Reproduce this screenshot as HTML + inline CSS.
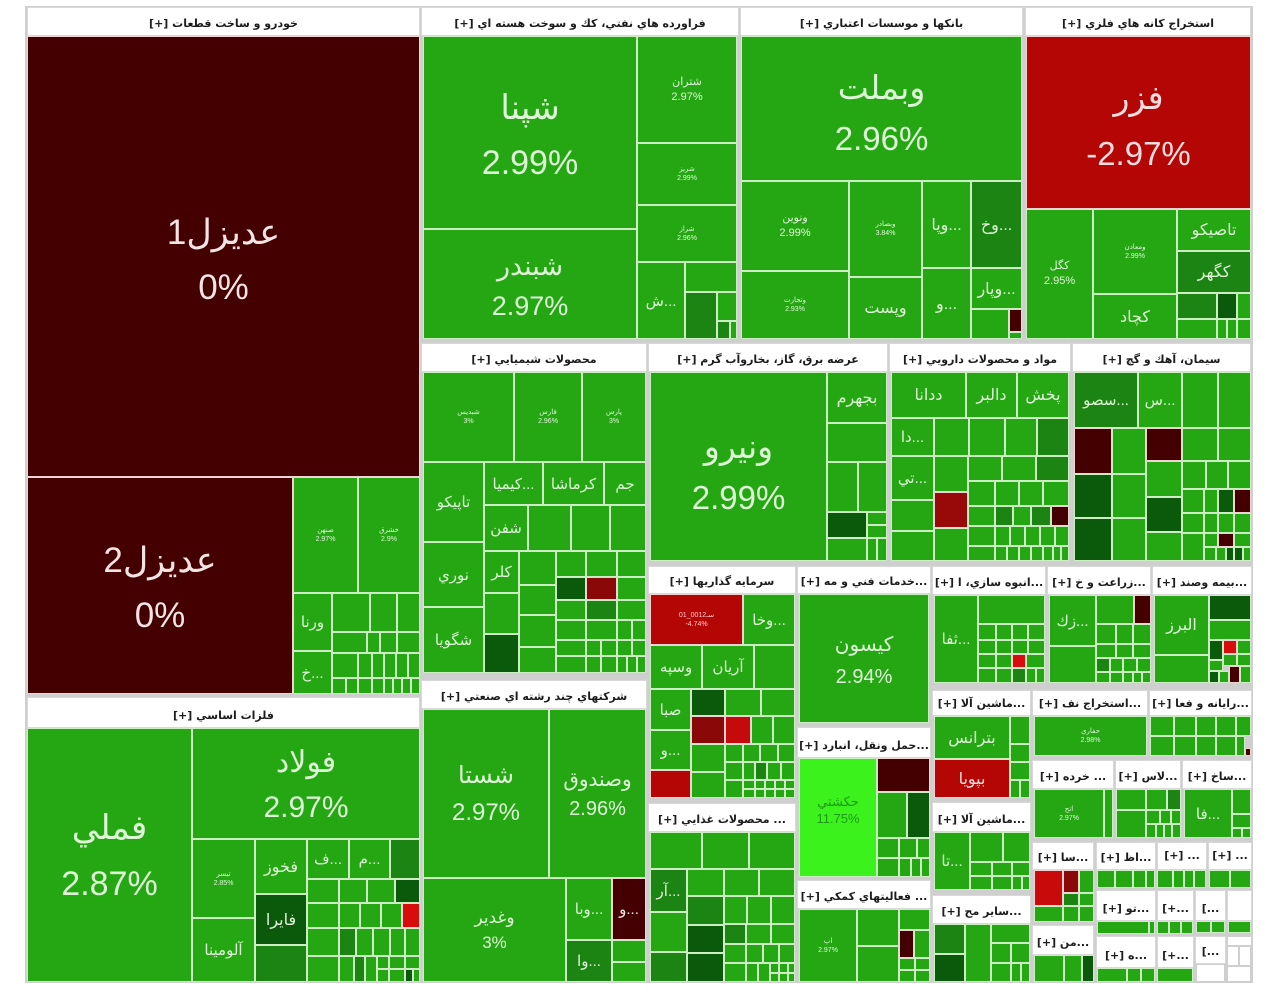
<!DOCTYPE html>
<html><head><meta charset="utf-8">
<style>
html,body{margin:0;padding:0;background:#fff;width:1280px;height:1008px;overflow:hidden;position:relative}
#fr{position:absolute;left:25px;top:6px;width:1228px;height:977px;background:#cfcfcf}
i{position:absolute;box-sizing:border-box;border:1px solid #cdeec5;font-style:normal;display:flex;flex-direction:column;align-items:center;justify-content:center;color:#dff5d8;font-family:"Liberation Sans","DejaVu Sans",sans-serif;text-align:center;overflow:hidden;white-space:nowrap;direction:rtl;background:#25a713}
i b{font-weight:normal;display:block}
.g{background:#25a713}
.d{background:#1c8412}
.dd{background:#0b590b}
.m{background:#440000;border-color:#f0d2d2;color:#f3e4e4}
.m2{background:#8a0808;border-color:#f0d2d2}
.r{background:#b50606;border-color:#f0d2d2;color:#f6dede}
.br{background:#d90c0c;border-color:#f0d2d2}
.lg{background:#3cf21c;color:#1c9a12}
.w{background:#fff;border-color:#cfcfcf}
u{position:absolute;box-sizing:border-box;background:#fff;border:1px solid #d8d8d8;text-decoration:none;display:flex;align-items:flex-end;justify-content:center;padding-bottom:4px;font:bold 11px/14px "DejaVu Sans",sans-serif;color:#1c1c1c;direction:rtl;white-space:nowrap;overflow:hidden}
.t7{font-size:7px;line-height:9px}
.t10{font-size:10px;line-height:13px}
.t11{font-size:11px;line-height:15px}
.t15{font-size:15px}
.t16{font-size:16px}
</style></head><body>
<div id="fr"></div>

<!-- Sector 1 -->
<u style="left:27px;top:7px;width:393px;height:29px">خودرو و ساخت قطعات [+]</u>
<i class="m" style="left:27px;top:36px;width:393px;height:441px;font-size:35px;line-height:55px;padding-top:6px"><b>عديزل1</b><b dir="ltr">0%</b></i>
<i class="m" style="left:27px;top:477px;width:266px;height:217px;font-size:35px;line-height:55px;padding-top:4px"><b>عديزل2</b><b dir="ltr">0%</b></i>
<i class="g t7" style="left:293px;top:477px;width:65px;height:116px"><b>صنهن</b><b dir="ltr">2.97%</b></i>
<i class="g t7" style="left:358px;top:477px;width:62px;height:116px"><b>خشرق</b><b dir="ltr">2.9%</b></i>
<i class="g t15" style="left:293px;top:593px;width:39px;height:58px">ورنا</i>
<i class="g t15" style="left:293px;top:651px;width:39px;height:43px">...خ</i>
<i class="g" style="left:332px;top:593px;width:38px;height:39px"></i>
<i class="g" style="left:370px;top:593px;width:27px;height:39px"></i>
<i class="g" style="left:397px;top:593px;width:23px;height:39px"></i>
<i class="g" style="left:332px;top:632px;width:35px;height:21px"></i>
<i class="g" style="left:367px;top:632px;width:13px;height:21px"></i>
<i class="g" style="left:380px;top:632px;width:17px;height:21px"></i>
<i class="g" style="left:397px;top:632px;width:23px;height:21px"></i>
<i class="g" style="left:332px;top:653px;width:26px;height:25px"></i>
<i class="g" style="left:358px;top:653px;width:14px;height:25px"></i>
<i class="g" style="left:372px;top:653px;width:12px;height:25px"></i>
<i class="g" style="left:384px;top:653px;width:12px;height:25px"></i>
<i class="g" style="left:396px;top:653px;width:12px;height:25px"></i>
<i class="g" style="left:408px;top:653px;width:12px;height:25px"></i>
<i class="g" style="left:332px;top:678px;width:14px;height:16px"></i>
<i class="g" style="left:346px;top:678px;width:12px;height:16px"></i>
<i class="g" style="left:358px;top:678px;width:14px;height:16px"></i>
<i class="g" style="left:372px;top:678px;width:12px;height:16px"></i>
<i class="g" style="left:384px;top:678px;width:9px;height:16px"></i>
<i class="g" style="left:393px;top:678px;width:9px;height:16px"></i>
<i class="g" style="left:402px;top:678px;width:9px;height:16px"></i>
<i class="g" style="left:411px;top:678px;width:9px;height:16px"></i>

<!-- Felezat -->
<u style="left:27px;top:697px;width:393px;height:31px">فلزات اساسي [+]</u>
<i class="g" style="left:27px;top:728px;width:165px;height:254px;font-size:34px;line-height:56px;padding-top:2px"><b>فملي</b><b dir="ltr">2.87%</b></i>
<i class="g" style="left:192px;top:728px;width:228px;height:111px;font-size:30px;line-height:45px;padding-top:3px"><b>فولاد</b><b dir="ltr">2.97%</b></i>
<i class="g t7" style="left:192px;top:839px;width:63px;height:79px"><b>تيسر</b><b dir="ltr">2.85%</b></i>
<i class="g t15" style="left:192px;top:918px;width:63px;height:64px">آلومينا</i>
<i class="g t16" style="left:255px;top:839px;width:52px;height:55px">فخوز</i>
<i class="dd t16" style="left:255px;top:894px;width:52px;height:51px">فايرا</i>
<i class="d" style="left:255px;top:945px;width:52px;height:37px"></i>
<i class="g t15" style="left:307px;top:839px;width:42px;height:40px">...ف</i>
<i class="g t15" style="left:349px;top:839px;width:41px;height:40px">...م</i>
<i class="d" style="left:390px;top:839px;width:30px;height:40px"></i>
<i class="g" style="left:307px;top:879px;width:32px;height:24px"></i>
<i class="g" style="left:339px;top:879px;width:28px;height:24px"></i>
<i class="g" style="left:367px;top:879px;width:28px;height:24px"></i>
<i class="dd" style="left:395px;top:879px;width:25px;height:24px"></i>
<i class="g" style="left:307px;top:903px;width:32px;height:25px"></i>
<i class="g" style="left:339px;top:903px;width:21px;height:25px"></i>
<i class="g" style="left:360px;top:903px;width:21px;height:25px"></i>
<i class="g" style="left:381px;top:903px;width:21px;height:25px"></i>
<i class="br" style="left:402px;top:903px;width:18px;height:25px"></i>
<i class="g" style="left:307px;top:928px;width:32px;height:28px"></i>
<i class="d" style="left:339px;top:928px;width:17px;height:28px"></i>
<i class="g" style="left:356px;top:928px;width:17px;height:28px"></i>
<i class="g" style="left:373px;top:928px;width:17px;height:28px"></i>
<i class="g" style="left:390px;top:928px;width:15px;height:28px"></i>
<i class="g" style="left:405px;top:928px;width:15px;height:28px"></i>
<i class="g" style="left:307px;top:956px;width:32px;height:26px"></i>
<i class="g" style="left:339px;top:956px;width:15px;height:26px"></i>
<i class="d" style="left:354px;top:956px;width:11px;height:26px"></i>
<i class="g" style="left:365px;top:956px;width:12px;height:26px"></i>
<i class="g" style="left:377px;top:956px;width:12px;height:13px"></i>
<i class="g" style="left:377px;top:969px;width:12px;height:13px"></i>
<i class="g" style="left:389px;top:956px;width:16px;height:13px"></i>
<i class="g" style="left:389px;top:969px;width:16px;height:13px"></i>
<i class="g" style="left:405px;top:956px;width:15px;height:13px"></i>
<i class="dd" style="left:405px;top:969px;width:8px;height:13px"></i>
<i class="g" style="left:413px;top:969px;width:7px;height:13px"></i>

<!-- Faravardeh -->
<u style="left:421px;top:7px;width:318px;height:29px">فراورده هاي نفتي، كك و سوخت هسته اي [+]</u>
<i class="g" style="left:423px;top:36px;width:214px;height:193px;font-size:34px;line-height:55px;padding-top:6px"><b>شپنا</b><b dir="ltr">2.99%</b></i>
<i class="g" style="left:423px;top:229px;width:214px;height:110px;font-size:27px;line-height:40px;padding-top:4px"><b>شبندر</b><b dir="ltr">2.97%</b></i>
<i class="g t11" style="left:637px;top:36px;width:100px;height:107px"><b>شتران</b><b dir="ltr">2.97%</b></i>
<i class="g t7" style="left:637px;top:143px;width:100px;height:62px"><b>شريز</b><b dir="ltr">2.99%</b></i>
<i class="g t7" style="left:637px;top:205px;width:100px;height:57px"><b>شراز</b><b dir="ltr">2.96%</b></i>
<i class="g t15" style="left:637px;top:262px;width:48px;height:77px">...ش</i>
<i class="g" style="left:685px;top:262px;width:52px;height:30px"></i>
<i class="d" style="left:685px;top:292px;width:32px;height:47px"></i>
<i class="g" style="left:717px;top:292px;width:20px;height:29px"></i>
<i class="d" style="left:717px;top:321px;width:13px;height:18px"></i>
<i class="g" style="left:730px;top:321px;width:7px;height:18px"></i>

<!-- Banks -->
<u style="left:740px;top:7px;width:283px;height:29px">بانكها و موسسات اعتباري [+]</u>
<i class="g" style="left:741px;top:36px;width:281px;height:145px;font-size:33px;line-height:51px;padding-top:8px"><b>وبملت</b><b dir="ltr">2.96%</b></i>
<i class="g t11" style="left:741px;top:181px;width:108px;height:90px"><b>ونوين</b><b dir="ltr">2.99%</b></i>
<i class="g t7" style="left:741px;top:271px;width:108px;height:68px"><b>وتجارت</b><b dir="ltr">2.93%</b></i>
<i class="g t7" style="left:849px;top:181px;width:73px;height:96px"><b>وبصادر</b><b dir="ltr">3.84%</b></i>
<i class="g t16" style="left:849px;top:277px;width:73px;height:62px">وپست</i>
<i class="g t16" style="left:922px;top:181px;width:49px;height:87px">...وپا</i>
<i class="g t16" style="left:922px;top:268px;width:49px;height:71px">...و</i>
<i class="d t16" style="left:971px;top:181px;width:51px;height:87px">...وخ</i>
<i class="g t16" style="left:971px;top:268px;width:51px;height:41px">...وپار</i>
<i class="g" style="left:971px;top:309px;width:38px;height:30px"></i>
<i class="m" style="left:1009px;top:309px;width:13px;height:23px"></i>
<i class="g" style="left:1009px;top:332px;width:13px;height:7px"></i>

<!-- Estekhraj kaneh -->
<u style="left:1025px;top:7px;width:226px;height:29px">استخراج كانه هاي فلزي [+]</u>
<i class="r" style="left:1026px;top:36px;width:225px;height:173px;font-size:33px;line-height:56px;padding-top:6px"><b>فزر</b><b dir="ltr">-2.97%</b></i>
<i class="g t11" style="left:1026px;top:209px;width:67px;height:130px"><b>كگل</b><b dir="ltr">2.95%</b></i>
<i class="g t7" style="left:1093px;top:209px;width:84px;height:85px"><b>ومعادن</b><b dir="ltr">2.99%</b></i>
<i class="g t16" style="left:1093px;top:294px;width:84px;height:45px">كچاد</i>
<i class="g t16" style="left:1177px;top:209px;width:74px;height:42px">تاصيكو</i>
<i class="d t16" style="left:1177px;top:251px;width:74px;height:42px">كگهر</i>
<i class="d" style="left:1177px;top:293px;width:40px;height:26px"></i>
<i class="dd" style="left:1217px;top:293px;width:20px;height:26px"></i>
<i class="g" style="left:1237px;top:293px;width:14px;height:26px"></i>
<i class="g" style="left:1177px;top:319px;width:40px;height:20px"></i>
<i class="g" style="left:1217px;top:319px;width:10px;height:20px"></i>
<i class="g" style="left:1227px;top:319px;width:10px;height:20px"></i>
<i class="g" style="left:1237px;top:319px;width:14px;height:20px"></i>

<!-- Chemicals -->
<u style="left:421px;top:343px;width:226px;height:29px">محصولات شيميايي [+]</u>
<i class="g t7" style="left:423px;top:372px;width:91px;height:90px"><b>شبديس</b><b dir="ltr">3%</b></i>
<i class="g t7" style="left:514px;top:372px;width:68px;height:90px"><b>فارس</b><b dir="ltr">2.96%</b></i>
<i class="g t7" style="left:582px;top:372px;width:64px;height:90px"><b>پارس</b><b dir="ltr">3%</b></i>
<i class="g t15" style="left:423px;top:462px;width:61px;height:80px">تاپيكو</i>
<i class="g t15" style="left:423px;top:542px;width:61px;height:65px">نوري</i>
<i class="g t15" style="left:423px;top:607px;width:61px;height:66px">شگويا</i>
<i class="g t15" style="left:484px;top:462px;width:59px;height:43px">...كيميا</i>
<i class="g t15" style="left:543px;top:462px;width:61px;height:43px">كرماشا</i>
<i class="g t15" style="left:604px;top:462px;width:42px;height:43px">جم</i>
<i class="g t15" style="left:484px;top:505px;width:44px;height:46px">شفن</i>
<i class="g" style="left:528px;top:505px;width:43px;height:46px"></i>
<i class="g" style="left:571px;top:505px;width:39px;height:46px"></i>
<i class="g" style="left:610px;top:505px;width:36px;height:46px"></i>
<i class="g t15" style="left:484px;top:551px;width:35px;height:42px">كلر</i>
<i class="g" style="left:484px;top:593px;width:35px;height:41px"></i>
<i class="dd" style="left:484px;top:634px;width:35px;height:39px"></i>
<i class="g" style="left:519px;top:551px;width:37px;height:34px"></i>
<i class="g" style="left:519px;top:585px;width:37px;height:30px"></i>
<i class="g" style="left:519px;top:615px;width:37px;height:32px"></i>
<i class="g" style="left:519px;top:647px;width:37px;height:26px"></i>
<i class="g" style="left:556px;top:551px;width:30px;height:26px"></i>
<i class="dd" style="left:556px;top:577px;width:30px;height:23px"></i>
<i class="g" style="left:556px;top:600px;width:30px;height:20px"></i>
<i class="g" style="left:556px;top:620px;width:30px;height:20px"></i>
<i class="g" style="left:556px;top:640px;width:30px;height:16px"></i>
<i class="g" style="left:556px;top:656px;width:30px;height:17px"></i>
<i class="g" style="left:586px;top:551px;width:31px;height:26px"></i>
<i class="m2" style="left:586px;top:577px;width:31px;height:23px"></i>
<i class="d" style="left:586px;top:600px;width:31px;height:20px"></i>
<i class="g" style="left:586px;top:620px;width:31px;height:20px"></i>
<i class="g" style="left:586px;top:640px;width:15px;height:16px"></i>
<i class="g" style="left:601px;top:640px;width:16px;height:16px"></i>
<i class="g" style="left:586px;top:656px;width:15px;height:17px"></i>
<i class="g" style="left:601px;top:656px;width:16px;height:17px"></i>
<i class="g" style="left:617px;top:551px;width:29px;height:26px"></i>
<i class="g" style="left:617px;top:577px;width:29px;height:23px"></i>
<i class="g" style="left:617px;top:600px;width:29px;height:20px"></i>
<i class="g" style="left:617px;top:620px;width:15px;height:20px"></i>
<i class="g" style="left:632px;top:620px;width:14px;height:20px"></i>
<i class="g" style="left:617px;top:640px;width:15px;height:16px"></i>
<i class="g" style="left:632px;top:640px;width:14px;height:16px"></i>
<i class="g" style="left:617px;top:656px;width:10px;height:17px"></i>
<i class="g" style="left:627px;top:656px;width:10px;height:17px"></i>
<i class="g" style="left:637px;top:656px;width:9px;height:17px"></i>

<!-- Electricity -->
<u style="left:648px;top:343px;width:240px;height:29px">عرضه برق، گاز، بخاروآب گرم [+]</u>
<i class="g" style="left:650px;top:372px;width:177px;height:189px;font-size:33px;line-height:51px;padding-top:10px"><b>ونيرو</b><b dir="ltr">2.99%</b></i>
<i class="g t16" style="left:827px;top:372px;width:60px;height:51px">بجهرم</i>
<i class="g" style="left:827px;top:423px;width:60px;height:39px"></i>
<i class="g" style="left:827px;top:462px;width:31px;height:50px"></i>
<i class="g" style="left:858px;top:462px;width:29px;height:50px"></i>
<i class="dd" style="left:827px;top:512px;width:40px;height:26px"></i>
<i class="g" style="left:867px;top:512px;width:20px;height:13px"></i>
<i class="g" style="left:867px;top:525px;width:20px;height:13px"></i>
<i class="g" style="left:827px;top:538px;width:40px;height:23px"></i>
<i class="g" style="left:867px;top:538px;width:10px;height:23px"></i>
<i class="g" style="left:877px;top:538px;width:10px;height:23px"></i>

<!-- Pharma -->
<u style="left:889px;top:343px;width:182px;height:29px">مواد و محصولات دارويي [+]</u>
<i class="g t16" style="left:891px;top:372px;width:75px;height:46px">ددانا</i>
<i class="g t16" style="left:966px;top:372px;width:51px;height:46px">دالبر</i>
<i class="g t16" style="left:1017px;top:372px;width:52px;height:46px">پخش</i>
<i class="g t15" style="left:891px;top:418px;width:43px;height:38px">...دا</i>
<i class="g" style="left:934px;top:418px;width:35px;height:38px"></i>
<i class="g" style="left:969px;top:418px;width:36px;height:38px"></i>
<i class="g" style="left:1005px;top:418px;width:32px;height:38px"></i>
<i class="d" style="left:1037px;top:418px;width:32px;height:38px"></i>
<i class="g t15" style="left:891px;top:456px;width:43px;height:44px">...تي</i>
<i class="g" style="left:891px;top:500px;width:43px;height:31px"></i>
<i class="g" style="left:891px;top:531px;width:43px;height:30px"></i>
<i class="g" style="left:934px;top:456px;width:34px;height:36px"></i>
<i class="m2" style="left:934px;top:492px;width:34px;height:36px;background:#980a0a"></i>
<i class="g" style="left:934px;top:528px;width:34px;height:33px"></i>
<i class="g" style="left:968px;top:456px;width:34px;height:25px"></i>
<i class="g" style="left:1002px;top:456px;width:34px;height:25px"></i>
<i class="d" style="left:1036px;top:456px;width:33px;height:25px"></i>
<i class="g" style="left:968px;top:481px;width:27px;height:25px"></i>
<i class="g" style="left:995px;top:481px;width:24px;height:25px"></i>
<i class="g" style="left:1019px;top:481px;width:24px;height:25px"></i>
<i class="g" style="left:1043px;top:481px;width:26px;height:25px"></i>
<i class="g" style="left:968px;top:506px;width:27px;height:20px"></i>
<i class="d" style="left:995px;top:506px;width:18px;height:20px"></i>
<i class="g" style="left:1013px;top:506px;width:18px;height:20px"></i>
<i class="d" style="left:1031px;top:506px;width:20px;height:20px"></i>
<i class="m" style="left:1051px;top:506px;width:18px;height:20px"></i>
<i class="g" style="left:968px;top:526px;width:27px;height:20px"></i>
<i class="g" style="left:995px;top:526px;width:15px;height:20px"></i>
<i class="g" style="left:1010px;top:526px;width:15px;height:20px"></i>
<i class="g" style="left:1025px;top:526px;width:15px;height:20px"></i>
<i class="g" style="left:1040px;top:526px;width:15px;height:20px"></i>
<i class="g" style="left:1055px;top:526px;width:14px;height:20px"></i>
<i class="g" style="left:968px;top:546px;width:27px;height:15px"></i>
<i class="g" style="left:995px;top:546px;width:12px;height:15px"></i>
<i class="g" style="left:1007px;top:546px;width:12px;height:15px"></i>
<i class="g" style="left:1019px;top:546px;width:12px;height:15px"></i>
<i class="g" style="left:1031px;top:546px;width:12px;height:15px"></i>
<i class="g" style="left:1043px;top:546px;width:10px;height:15px"></i>
<i class="g" style="left:1053px;top:546px;width:8px;height:15px"></i>
<i class="g" style="left:1061px;top:546px;width:8px;height:15px"></i>

<!-- Cement -->
<u style="left:1072px;top:343px;width:179px;height:29px">سيمان، آهك و گچ [+]</u>
<i class="d t15" style="left:1074px;top:372px;width:64px;height:56px">...سصو</i>
<i class="g t15" style="left:1138px;top:372px;width:44px;height:56px">...س</i>
<i class="g" style="left:1182px;top:372px;width:36px;height:56px"></i>
<i class="g" style="left:1218px;top:372px;width:33px;height:56px"></i>
<i class="m" style="left:1074px;top:428px;width:38px;height:46px"></i>
<i class="g" style="left:1112px;top:428px;width:34px;height:46px"></i>
<i class="m" style="left:1146px;top:428px;width:36px;height:33px"></i>
<i class="g" style="left:1182px;top:428px;width:36px;height:33px"></i>
<i class="g" style="left:1218px;top:428px;width:33px;height:33px"></i>
<i class="dd" style="left:1074px;top:474px;width:38px;height:44px"></i>
<i class="g" style="left:1112px;top:474px;width:34px;height:44px"></i>
<i class="dd" style="left:1074px;top:518px;width:38px;height:43px"></i>
<i class="g" style="left:1112px;top:518px;width:34px;height:43px"></i>
<i class="g" style="left:1146px;top:461px;width:36px;height:36px"></i>
<i class="dd" style="left:1146px;top:497px;width:36px;height:35px"></i>
<i class="g" style="left:1146px;top:532px;width:36px;height:29px"></i>
<i class="g" style="left:1182px;top:461px;width:24px;height:28px"></i>
<i class="g" style="left:1206px;top:461px;width:22px;height:28px"></i>
<i class="g" style="left:1228px;top:461px;width:23px;height:28px"></i>
<i class="g" style="left:1182px;top:489px;width:22px;height:24px"></i>
<i class="g" style="left:1204px;top:489px;width:14px;height:24px"></i>
<i class="dd" style="left:1218px;top:489px;width:16px;height:24px"></i>
<i class="m" style="left:1234px;top:489px;width:17px;height:24px"></i>
<i class="g" style="left:1182px;top:513px;width:22px;height:20px"></i>
<i class="g" style="left:1204px;top:513px;width:14px;height:20px"></i>
<i class="g" style="left:1218px;top:513px;width:16px;height:20px"></i>
<i class="g" style="left:1234px;top:513px;width:17px;height:20px"></i>
<i class="g" style="left:1182px;top:533px;width:22px;height:28px"></i>
<i class="g" style="left:1204px;top:533px;width:14px;height:14px"></i>
<i class="m" style="left:1218px;top:533px;width:16px;height:14px"></i>
<i class="g" style="left:1234px;top:533px;width:17px;height:14px"></i>
<i class="g" style="left:1204px;top:547px;width:12px;height:14px"></i>
<i class="g" style="left:1216px;top:547px;width:10px;height:14px"></i>
<i class="dd" style="left:1226px;top:547px;width:8px;height:14px"></i>
<i class="dd" style="left:1234px;top:547px;width:9px;height:14px"></i>
<i class="g" style="left:1243px;top:547px;width:8px;height:14px"></i>

<!-- Multi-industrial -->
<u style="left:421px;top:680px;width:226px;height:29px">شركتهاي چند رشته اي صنعتي [+]</u>
<i class="g" style="left:423px;top:709px;width:126px;height:169px;font-size:24px;line-height:37px"><b>شستا</b><b dir="ltr">2.97%</b></i>
<i class="g" style="left:549px;top:709px;width:97px;height:169px;font-size:20px;line-height:29px;padding-top:3px"><b>وصندوق</b><b dir="ltr">2.96%</b></i>
<i class="g" style="left:423px;top:878px;width:143px;height:104px;font-size:17px;line-height:25px"><b>وغدير</b><b dir="ltr">3%</b></i>
<i class="g t15" style="left:566px;top:878px;width:46px;height:62px">...وبا</i>
<i class="m t15" style="left:612px;top:878px;width:34px;height:62px">...و</i>
<i class="d t15" style="left:566px;top:940px;width:46px;height:42px">...وا</i>
<i class="g" style="left:612px;top:940px;width:34px;height:22px"></i>
<i class="g" style="left:612px;top:962px;width:34px;height:20px"></i>

<!-- Investment -->
<u style="left:648px;top:566px;width:148px;height:28px">سرمايه گذاريها [+]</u>
<i class="r t7" style="left:650px;top:594px;width:93px;height:51px;color:#ffc8c8"><b>سـ0012_01</b><b dir="ltr">-4.74%</b></i>
<i class="g t15" style="left:743px;top:594px;width:52px;height:51px">...وخا</i>
<i class="g t15" style="left:650px;top:645px;width:52px;height:44px">وسپه</i>
<i class="g t15" style="left:702px;top:645px;width:52px;height:44px">آريان</i>
<i class="g" style="left:754px;top:645px;width:41px;height:44px"></i>
<i class="g t15" style="left:650px;top:689px;width:41px;height:41px">صبا</i>
<i class="g t15" style="left:650px;top:730px;width:41px;height:40px">...و</i>
<i class="r" style="left:650px;top:770px;width:41px;height:28px"></i>
<i class="dd" style="left:691px;top:689px;width:34px;height:27px"></i>
<i class="g" style="left:725px;top:689px;width:36px;height:27px"></i>
<i class="g" style="left:761px;top:689px;width:34px;height:27px"></i>
<i class="m2" style="left:691px;top:716px;width:34px;height:28px"></i>
<i class="r" style="left:725px;top:716px;width:26px;height:28px;background:#c40a0a"></i>
<i class="g" style="left:751px;top:716px;width:22px;height:28px"></i>
<i class="g" style="left:773px;top:716px;width:22px;height:28px"></i>
<i class="g" style="left:691px;top:744px;width:34px;height:28px"></i>
<i class="g" style="left:691px;top:772px;width:34px;height:26px"></i>
<i class="g" style="left:725px;top:744px;width:18px;height:18px"></i>
<i class="g" style="left:743px;top:744px;width:17px;height:18px"></i>
<i class="g" style="left:760px;top:744px;width:18px;height:18px"></i>
<i class="g" style="left:778px;top:744px;width:17px;height:18px"></i>
<i class="g" style="left:725px;top:762px;width:18px;height:18px"></i>
<i class="g" style="left:743px;top:762px;width:12px;height:18px"></i>
<i class="d" style="left:755px;top:762px;width:12px;height:18px"></i>
<i class="g" style="left:767px;top:762px;width:14px;height:18px"></i>
<i class="g" style="left:781px;top:762px;width:14px;height:18px"></i>
<i class="g" style="left:725px;top:780px;width:18px;height:18px"></i>
<i class="g" style="left:743px;top:780px;width:12px;height:9px"></i>
<i class="g" style="left:755px;top:780px;width:10px;height:9px"></i>
<i class="g" style="left:765px;top:780px;width:10px;height:9px"></i>
<i class="g" style="left:775px;top:780px;width:10px;height:9px"></i>
<i class="g" style="left:785px;top:780px;width:10px;height:9px"></i>
<i class="g" style="left:743px;top:789px;width:12px;height:9px"></i>
<i class="g" style="left:755px;top:789px;width:10px;height:9px"></i>
<i class="g" style="left:765px;top:789px;width:10px;height:9px"></i>
<i class="g" style="left:775px;top:789px;width:10px;height:9px"></i>
<i class="g" style="left:785px;top:789px;width:10px;height:9px"></i>

<!-- Services -->
<u style="left:797px;top:566px;width:134px;height:28px">...خدمات فني و مه [+]</u>
<i class="g" style="left:799px;top:594px;width:130px;height:129px;font-size:20px;line-height:32px;padding-top:4px"><b>كيسون</b><b dir="ltr">2.94%</b></i>

<!-- Transport -->
<u style="left:797px;top:727px;width:134px;height:31px">...حمل ونقل، انبارد [+]</u>
<i class="lg" style="left:799px;top:758px;width:78px;height:119px;font-size:13px;line-height:17px;padding-bottom:16px"><b>حكشتي</b><b dir="ltr">11.75%</b></i>
<i class="m" style="left:877px;top:758px;width:53px;height:34px"></i>
<i class="g" style="left:877px;top:792px;width:30px;height:46px"></i>
<i class="dd" style="left:907px;top:792px;width:23px;height:46px"></i>
<i class="g" style="left:877px;top:838px;width:22px;height:20px"></i>
<i class="g" style="left:899px;top:838px;width:18px;height:20px"></i>
<i class="g" style="left:917px;top:838px;width:13px;height:20px"></i>
<i class="g" style="left:877px;top:858px;width:22px;height:19px"></i>
<i class="g" style="left:899px;top:858px;width:12px;height:19px"></i>
<i class="g" style="left:911px;top:858px;width:10px;height:19px"></i>
<i class="g" style="left:921px;top:858px;width:9px;height:19px"></i>

<!-- Auxiliary -->
<u style="left:797px;top:880px;width:134px;height:29px">... فعاليتهاي كمكي [+]</u>
<i class="g t7" style="left:799px;top:909px;width:58px;height:73px"><b>اپ</b><b dir="ltr">2.97%</b></i>
<i class="g" style="left:857px;top:909px;width:42px;height:37px"></i>
<i class="g" style="left:857px;top:946px;width:42px;height:36px"></i>
<i class="g" style="left:899px;top:909px;width:31px;height:21px"></i>
<i class="m" style="left:899px;top:930px;width:15px;height:28px"></i>
<i class="g" style="left:914px;top:930px;width:16px;height:28px"></i>
<i class="g" style="left:899px;top:958px;width:16px;height:12px"></i>
<i class="g" style="left:915px;top:958px;width:15px;height:12px"></i>
<i class="g" style="left:899px;top:970px;width:16px;height:12px"></i>
<i class="g" style="left:915px;top:970px;width:15px;height:12px"></i>

<!-- Food -->
<u style="left:648px;top:803px;width:148px;height:29px">... محصولات غذايي [+]</u>
<i class="g" style="left:650px;top:832px;width:52px;height:37px"></i>
<i class="g" style="left:702px;top:832px;width:47px;height:37px"></i>
<i class="g" style="left:749px;top:832px;width:46px;height:37px"></i>
<i class="d t15" style="left:650px;top:869px;width:37px;height:43px">...آر</i>
<i class="g" style="left:650px;top:912px;width:37px;height:40px"></i>
<i class="d" style="left:650px;top:952px;width:37px;height:30px"></i>
<i class="g" style="left:687px;top:869px;width:37px;height:27px"></i>
<i class="d" style="left:687px;top:896px;width:37px;height:29px"></i>
<i class="dd" style="left:687px;top:925px;width:37px;height:28px"></i>
<i class="dd" style="left:687px;top:953px;width:37px;height:29px"></i>
<i class="g" style="left:724px;top:869px;width:35px;height:27px"></i>
<i class="g" style="left:759px;top:869px;width:36px;height:27px"></i>
<i class="g" style="left:724px;top:896px;width:23px;height:28px"></i>
<i class="g" style="left:747px;top:896px;width:24px;height:28px"></i>
<i class="g" style="left:771px;top:896px;width:24px;height:28px"></i>
<i class="d" style="left:724px;top:924px;width:22px;height:20px"></i>
<i class="g" style="left:746px;top:924px;width:25px;height:20px"></i>
<i class="g" style="left:771px;top:924px;width:24px;height:20px"></i>
<i class="g" style="left:724px;top:944px;width:22px;height:19px"></i>
<i class="g" style="left:746px;top:944px;width:17px;height:19px"></i>
<i class="g" style="left:763px;top:944px;width:16px;height:19px"></i>
<i class="g" style="left:779px;top:944px;width:16px;height:19px"></i>
<i class="g" style="left:724px;top:963px;width:22px;height:19px"></i>
<i class="g" style="left:746px;top:963px;width:12px;height:19px"></i>
<i class="g" style="left:758px;top:963px;width:12px;height:19px"></i>
<i class="g" style="left:770px;top:963px;width:9px;height:10px"></i>
<i class="g" style="left:779px;top:963px;width:9px;height:10px"></i>
<i class="g" style="left:788px;top:963px;width:7px;height:10px"></i>
<i class="g" style="left:770px;top:973px;width:9px;height:9px"></i>
<i class="g" style="left:779px;top:973px;width:9px;height:9px"></i>
<i class="g" style="left:788px;top:973px;width:7px;height:9px"></i>

<!-- Anbooh -->
<u style="left:932px;top:566px;width:114px;height:29px">...انبوه سازي، ا [+]</u>
<i class="g t15" style="left:934px;top:595px;width:44px;height:88px">...ثفا</i>
<i class="g" style="left:978px;top:595px;width:67px;height:29px"></i>
<i class="g" style="left:978px;top:624px;width:18px;height:16px"></i>
<i class="g" style="left:996px;top:624px;width:16px;height:16px"></i>
<i class="g" style="left:1012px;top:624px;width:16px;height:16px"></i>
<i class="g" style="left:1028px;top:624px;width:17px;height:16px"></i>
<i class="g" style="left:978px;top:640px;width:18px;height:14px"></i>
<i class="g" style="left:996px;top:640px;width:16px;height:14px"></i>
<i class="g" style="left:1012px;top:640px;width:16px;height:14px"></i>
<i class="g" style="left:1028px;top:640px;width:17px;height:14px"></i>
<i class="g" style="left:978px;top:654px;width:18px;height:14px"></i>
<i class="g" style="left:996px;top:654px;width:16px;height:14px"></i>
<i class="br" style="left:1012px;top:654px;width:14px;height:14px"></i>
<i class="g" style="left:1026px;top:654px;width:19px;height:14px"></i>
<i class="g" style="left:978px;top:668px;width:18px;height:15px"></i>
<i class="g" style="left:996px;top:668px;width:16px;height:15px"></i>
<i class="d" style="left:1012px;top:668px;width:14px;height:15px"></i>
<i class="g" style="left:1026px;top:668px;width:10px;height:15px"></i>
<i class="g" style="left:1036px;top:668px;width:9px;height:15px"></i>

<!-- Zeraat -->
<u style="left:1047px;top:566px;width:104px;height:29px">...زراعت و خ [+]</u>
<i class="g t15" style="left:1049px;top:595px;width:47px;height:51px">...زك</i>
<i class="g" style="left:1049px;top:646px;width:47px;height:37px"></i>
<i class="g" style="left:1096px;top:595px;width:38px;height:29px"></i>
<i class="m" style="left:1134px;top:595px;width:17px;height:29px"></i>
<i class="g" style="left:1096px;top:624px;width:20px;height:20px"></i>
<i class="g" style="left:1116px;top:624px;width:17px;height:20px"></i>
<i class="g" style="left:1133px;top:624px;width:18px;height:20px"></i>
<i class="g" style="left:1096px;top:644px;width:20px;height:14px"></i>
<i class="g" style="left:1116px;top:644px;width:17px;height:14px"></i>
<i class="g" style="left:1133px;top:644px;width:18px;height:14px"></i>
<i class="d" style="left:1096px;top:658px;width:14px;height:14px"></i>
<i class="g" style="left:1110px;top:658px;width:13px;height:14px"></i>
<i class="g" style="left:1123px;top:658px;width:14px;height:14px"></i>
<i class="g" style="left:1137px;top:658px;width:14px;height:14px"></i>
<i class="g" style="left:1096px;top:672px;width:14px;height:11px"></i>
<i class="g" style="left:1110px;top:672px;width:13px;height:11px"></i>
<i class="g" style="left:1123px;top:672px;width:10px;height:11px"></i>
<i class="g" style="left:1133px;top:672px;width:9px;height:11px"></i>
<i class="g" style="left:1142px;top:672px;width:9px;height:11px"></i>

<!-- Bimeh -->
<u style="left:1152px;top:566px;width:100px;height:29px">...بيمه وصند [+]</u>
<i class="g t16" style="left:1154px;top:595px;width:55px;height:60px">البرز</i>
<i class="g" style="left:1154px;top:655px;width:55px;height:28px"></i>
<i class="dd" style="left:1209px;top:595px;width:42px;height:25px"></i>
<i class="g" style="left:1209px;top:620px;width:42px;height:20px"></i>
<i class="dd" style="left:1209px;top:640px;width:14px;height:20px"></i>
<i class="br" style="left:1223px;top:640px;width:14px;height:14px"></i>
<i class="g" style="left:1237px;top:640px;width:14px;height:14px"></i>
<i class="g" style="left:1223px;top:654px;width:14px;height:12px"></i>
<i class="g" style="left:1237px;top:654px;width:14px;height:12px"></i>
<i class="g" style="left:1209px;top:660px;width:14px;height:11px"></i>
<i class="dd" style="left:1209px;top:671px;width:10px;height:12px"></i>
<i class="g" style="left:1219px;top:671px;width:10px;height:12px"></i>
<i class="m" style="left:1229px;top:666px;width:11px;height:17px"></i>
<i class="g" style="left:1240px;top:666px;width:11px;height:17px"></i>

<!-- Mashin 1 -->
<u style="left:932px;top:690px;width:99px;height:26px">...ماشين آلا [+]</u>
<i class="g t16" style="left:934px;top:716px;width:76px;height:43px">بترانس</i>
<i class="r t16" style="left:934px;top:759px;width:76px;height:39px">بپويا</i>
<i class="g" style="left:1010px;top:716px;width:20px;height:28px"></i>
<i class="g" style="left:1010px;top:744px;width:20px;height:18px"></i>
<i class="g" style="left:1010px;top:762px;width:20px;height:18px"></i>
<i class="g" style="left:1010px;top:780px;width:10px;height:18px"></i>
<i class="g" style="left:1020px;top:780px;width:10px;height:18px"></i>

<!-- Estekhraj naft -->
<u style="left:1032px;top:690px;width:116px;height:26px">...استخراج نف [+]</u>
<i class="g t7" style="left:1034px;top:716px;width:113px;height:40px"><b>حفاري</b><b dir="ltr">2.98%</b></i>

<!-- Rayaneh -->
<u style="left:1149px;top:690px;width:103px;height:26px">...رايانه و فعا [+]</u>
<i class="g" style="left:1150px;top:716px;width:24px;height:20px"></i>
<i class="g" style="left:1174px;top:716px;width:22px;height:20px"></i>
<i class="g" style="left:1196px;top:716px;width:20px;height:20px"></i>
<i class="g" style="left:1216px;top:716px;width:20px;height:20px"></i>
<i class="g" style="left:1236px;top:716px;width:15px;height:20px"></i>
<i class="g" style="left:1150px;top:736px;width:24px;height:20px"></i>
<i class="g" style="left:1174px;top:736px;width:22px;height:20px"></i>
<i class="g" style="left:1196px;top:736px;width:20px;height:20px"></i>
<i class="g" style="left:1216px;top:736px;width:20px;height:20px"></i>
<i class="g" style="left:1236px;top:736px;width:9px;height:20px"></i>
<i class="m" style="left:1245px;top:748px;width:6px;height:8px"></i>

<!-- Khordeh -->
<u style="left:1032px;top:760px;width:82px;height:29px">... خرده [+]</u>
<i class="g t7" style="left:1034px;top:789px;width:70px;height:49px"><b>اتح</b><b dir="ltr">2.97%</b></i>
<i class="g" style="left:1104px;top:789px;width:9px;height:49px"></i>

<!-- Las -->
<u style="left:1115px;top:760px;width:66px;height:29px">...لاس [+]</u>
<i class="g" style="left:1116px;top:789px;width:30px;height:21px"></i>
<i class="g" style="left:1146px;top:789px;width:21px;height:21px"></i>
<i class="d" style="left:1167px;top:789px;width:14px;height:21px"></i>
<i class="g" style="left:1116px;top:810px;width:30px;height:28px"></i>
<i class="g" style="left:1146px;top:810px;width:14px;height:14px"></i>
<i class="g" style="left:1160px;top:810px;width:11px;height:14px"></i>
<i class="g" style="left:1171px;top:810px;width:10px;height:14px"></i>
<i class="g" style="left:1146px;top:824px;width:10px;height:14px"></i>
<i class="g" style="left:1156px;top:824px;width:8px;height:14px"></i>
<i class="g" style="left:1164px;top:824px;width:8px;height:14px"></i>
<i class="g" style="left:1172px;top:824px;width:9px;height:14px"></i>

<!-- Sakh -->
<u style="left:1182px;top:760px;width:70px;height:29px">...ساخ [+]</u>
<i class="g t15" style="left:1184px;top:789px;width:48px;height:49px">...فا</i>
<i class="g" style="left:1232px;top:789px;width:19px;height:25px"></i>
<i class="g" style="left:1232px;top:814px;width:19px;height:14px"></i>
<i class="g" style="left:1232px;top:828px;width:10px;height:10px"></i>
<i class="g" style="left:1242px;top:828px;width:9px;height:10px"></i>

<!-- Mashin 2 -->
<u style="left:932px;top:802px;width:99px;height:30px">...ماشين آلا [+]</u>
<i class="g t15" style="left:934px;top:832px;width:36px;height:58px">...تا</i>
<i class="g" style="left:970px;top:832px;width:33px;height:30px"></i>
<i class="g" style="left:1003px;top:832px;width:27px;height:30px"></i>
<i class="g" style="left:970px;top:862px;width:22px;height:14px"></i>
<i class="g" style="left:992px;top:862px;width:20px;height:14px"></i>
<i class="g" style="left:1012px;top:862px;width:18px;height:14px"></i>
<i class="g" style="left:970px;top:876px;width:22px;height:14px"></i>
<i class="g" style="left:992px;top:876px;width:20px;height:14px"></i>
<i class="g" style="left:1012px;top:876px;width:10px;height:14px"></i>
<i class="g" style="left:1022px;top:876px;width:8px;height:14px"></i>

<!-- Sayer -->
<u style="left:932px;top:895px;width:99px;height:29px">...ساير مح [+]</u>
<i class="d" style="left:934px;top:924px;width:31px;height:30px"></i>
<i class="dd" style="left:934px;top:954px;width:31px;height:28px"></i>
<i class="g" style="left:965px;top:924px;width:26px;height:58px"></i>
<i class="g" style="left:991px;top:924px;width:39px;height:19px"></i>
<i class="g" style="left:991px;top:943px;width:20px;height:20px"></i>
<i class="g" style="left:1011px;top:943px;width:19px;height:20px"></i>
<i class="g" style="left:991px;top:963px;width:20px;height:19px"></i>
<i class="g" style="left:1011px;top:963px;width:10px;height:19px"></i>
<i class="g" style="left:1021px;top:963px;width:9px;height:19px"></i>

<!-- Sa -->
<u style="left:1032px;top:842px;width:62px;height:28px">...سا [+]</u>
<i class="br" style="left:1034px;top:870px;width:29px;height:36px;background:#c80a0a"></i>
<i class="m2" style="left:1063px;top:870px;width:16px;height:23px"></i>
<i class="g" style="left:1079px;top:870px;width:15px;height:23px"></i>
<i class="d" style="left:1063px;top:893px;width:16px;height:13px"></i>
<i class="g" style="left:1079px;top:893px;width:15px;height:13px"></i>
<i class="g" style="left:1034px;top:906px;width:29px;height:16px"></i>
<i class="g" style="left:1063px;top:906px;width:16px;height:16px"></i>
<i class="g" style="left:1079px;top:906px;width:15px;height:16px"></i>

<!-- Man -->
<u style="left:1032px;top:925px;width:62px;height:30px">...من [+]</u>
<i class="g" style="left:1034px;top:955px;width:30px;height:27px"></i>
<i class="g" style="left:1064px;top:955px;width:18px;height:27px"></i>
<i class="dd" style="left:1082px;top:955px;width:12px;height:27px"></i>

<!-- Az -->
<u style="left:1096px;top:842px;width:60px;height:28px">...اظ [+]</u>
<i class="g" style="left:1097px;top:870px;width:18px;height:18px"></i>
<i class="g" style="left:1115px;top:870px;width:18px;height:18px"></i>
<i class="g" style="left:1133px;top:870px;width:13px;height:18px"></i>
<i class="g" style="left:1146px;top:870px;width:9px;height:18px"></i>

<!-- To -->
<u style="left:1096px;top:890px;width:60px;height:31px">...تو [+]</u>
<i class="g" style="left:1097px;top:921px;width:52px;height:13px"></i>
<i class="g" style="left:1149px;top:921px;width:6px;height:13px"></i>

<!-- He -->
<u style="left:1096px;top:936px;width:60px;height:32px">...ه [+]</u>
<i class="g" style="left:1097px;top:968px;width:30px;height:14px"></i>
<i class="g" style="left:1127px;top:968px;width:14px;height:14px"></i>
<i class="g" style="left:1141px;top:968px;width:14px;height:14px"></i>

<!-- Small ones -->
<u style="left:1157px;top:842px;width:50px;height:28px;align-items:center;padding-bottom:0">... [+]</u>
<i class="g" style="left:1157px;top:870px;width:16px;height:18px"></i>
<i class="g" style="left:1173px;top:870px;width:11px;height:18px"></i>
<i class="g" style="left:1184px;top:870px;width:10px;height:18px"></i>
<i class="g" style="left:1194px;top:870px;width:12px;height:18px"></i>
<u style="left:1208px;top:842px;width:44px;height:28px;align-items:center;padding-bottom:0">... [+]</u>
<i class="g" style="left:1209px;top:870px;width:21px;height:18px"></i>
<i class="g" style="left:1230px;top:870px;width:21px;height:18px"></i>
<u style="left:1157px;top:890px;width:37px;height:31px;direction:ltr">[+...</u>
<i class="g" style="left:1157px;top:921px;width:12px;height:13px"></i>
<i class="g" style="left:1169px;top:921px;width:12px;height:13px"></i>
<i class="g" style="left:1181px;top:921px;width:12px;height:13px"></i>
<u style="left:1195px;top:890px;width:31px;height:31px;direction:ltr">[...</u>
<i class="g" style="left:1196px;top:921px;width:15px;height:12px"></i>
<i class="g" style="left:1211px;top:921px;width:14px;height:12px"></i>
<u style="left:1227px;top:890px;width:25px;height:31px"></u>
<i class="g" style="left:1228px;top:921px;width:23px;height:12px"></i>
<u style="left:1157px;top:936px;width:37px;height:32px;direction:ltr">[+...</u>
<i class="g" style="left:1157px;top:968px;width:36px;height:14px"></i>
<u style="left:1195px;top:936px;width:31px;height:28px;direction:ltr">[...</u>
<i class="w" style="left:1196px;top:964px;width:29px;height:18px"></i>
<i class="w" style="left:1227px;top:936px;width:25px;height:10px"></i>
<i class="w" style="left:1227px;top:946px;width:12px;height:20px"></i>
<i class="w" style="left:1239px;top:946px;width:12px;height:20px"></i>
<i class="w" style="left:1227px;top:966px;width:24px;height:16px"></i>
</body></html>
